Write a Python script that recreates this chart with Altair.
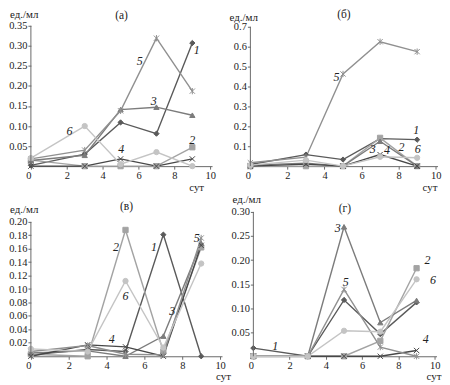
import altair as alt
import pandas as pd

DAYS = [0, 3, 5, 7, 9]
SERIES = ["1", "2", "3", "4", "5", "6"]
COLORS = ["#5a5a5a", "#a3a3a3", "#7c7c7c", "#474747", "#909090", "#c4c4c4"]
X_PATH = "M-1,-1L1,1M-1,1L1,-1"
STAR_PATH = "M-1,-1L1,1M-1,1L1,-1M0,-1.2L0,1.2"
SHAPES = ["diamond", "square", "triangle-up", X_PATH, STAR_PATH, "circle"]
XTICKS = [0, 2, 4, 6, 8, 10]

# panel (а)
a_1 = [0.002, 0.030, 0.109, 0.081, 0.307]
a_2 = [0.015, 0.000, 0.000, 0.000, 0.047]
a_3 = [0.014, 0.027, 0.141, 0.147, 0.127]
a_4 = [0.000, 0.000, 0.018, 0.000, 0.018]
a_5 = [0.018, 0.040, 0.138, 0.319, 0.187]
a_6 = [0.020, 0.100, 0.005, 0.035, 0.000]
a_lab_x = [9.24, 8.99, 6.85, 5.04, 6.07, 2.15]
a_lab_y = [0.290, 0.066, 0.163, 0.042, 0.263, 0.088]
a_ticks = [0.05, 0.10, 0.15, 0.20, 0.25, 0.30, 0.35]

# panel (б)
b_1 = [0.008, 0.058, 0.033, 0.138, 0.133]
b_2 = [0.000, 0.000, 0.000, 0.142, 0.000]
b_3 = [0.005, 0.015, 0.000, 0.125, 0.000]
b_4 = [0.000, 0.010, 0.000, 0.058, 0.000]
b_5 = [0.017, 0.045, 0.463, 0.625, 0.575]
b_6 = [0.005, 0.030, 0.000, 0.047, 0.042]
b_lab_x = [8.95, 8.16, 6.60, 7.37, 4.65, 9.03]
b_lab_y = [0.180, 0.097, 0.088, 0.083, 0.450, 0.085]
b_ticks = [0.1, 0.2, 0.3, 0.4, 0.5, 0.6, 0.7]

# panel (в)
c_1 = [0.002, 0.010, 0.007, 0.181, 0.000]
c_2 = [0.003, 0.000, 0.188, 0.007, 0.162]
c_3 = [0.005, 0.008, 0.000, 0.030, 0.168]
c_4 = [0.000, 0.017, 0.014, 0.000, 0.165]
c_5 = [0.007, 0.016, 0.003, 0.002, 0.176]
c_6 = [0.011, 0.007, 0.112, 0.013, 0.138]
c_lab_x = [6.50, 4.50, 7.47, 4.27, 8.77, 5.00]
c_lab_y = [0.163, 0.163, 0.067, 0.026, 0.176, 0.090]
c_ticks = [0.02, 0.04, 0.06, 0.08, 0.10, 0.12, 0.14, 0.16, 0.18, 0.20]

# panel (г)
d_1 = [0.017, 0.000, 0.117, 0.046, 0.112]
d_2 = [0.000, 0.000, 0.000, 0.032, 0.183]
d_3 = [0.000, 0.000, 0.269, 0.070, 0.116]
d_4 = [0.000, 0.000, 0.000, 0.000, 0.012]
d_5 = [0.000, 0.000, 0.139, 0.019, 0.000]
d_6 = [0.000, 0.000, 0.053, 0.051, 0.160]
d_lab_x = [1.20, 9.60, 4.65, 9.50, 5.10, 9.90]
d_lab_y = [0.022, 0.200, 0.267, 0.036, 0.155, 0.158]
d_ticks = [0.05, 0.10, 0.15, 0.20, 0.25, 0.30]

SERIF = "Liberation Serif"
AXIS_COLOR = "#6a6a6a"


def panel(letter, vals, lab_x, lab_y, yticks, yfmt, ymax, width, height,
          ytitle_y, title_y, sut_x, sut_y):
    rows = []
    for s, v in zip(SERIES, vals):
        for d, y in zip(DAYS, v):
            rows.append({"s": s, "x": d, "y": y})
    df = pd.DataFrame(rows)
    labs = pd.DataFrame({"s": SERIES, "x": lab_x, "y": lab_y})

    xs = alt.Scale(domain=[0, 10.1], nice=False, zero=False)
    ys = alt.Scale(domain=[0, ymax], nice=False)
    xaxis = alt.Axis(values=XTICKS, format="d", grid=False, tickSize=3,
                     labelPadding=1, labelFont=SERIF, labelFontSize=10.5,
                     labelColor="#222", domainColor=AXIS_COLOR, tickColor=AXIS_COLOR,
                     labelAlign=alt.ExprRef(expr="datum.value === 0 ? 'right' : 'center'"))
    yaxis = alt.Axis(values=yticks, format=yfmt, grid=False, domain=False, tickSize=3,
                     labelPadding=1, labelFont=SERIF, labelFontSize=10.5,
                     labelColor="#222", tickColor=AXIS_COLOR)
    X = alt.X("x:Q", scale=xs, axis=xaxis, title=None)
    Y = alt.Y("y:Q", scale=ys, axis=yaxis, title=None)
    cscale = alt.Scale(domain=SERIES, range=COLORS)

    base = alt.Chart(df)
    lines = base.mark_line(strokeWidth=1.4).encode(
        x=X, y=Y, color=alt.Color("s:N", scale=cscale, legend=None), detail="s:N")
    pts = base.mark_point(size=28, strokeWidth=1, opacity=1).encode(
        x=X, y=Y,
        shape=alt.Shape("s:N", scale=alt.Scale(domain=SERIES, range=SHAPES), legend=None),
        fill=alt.Fill("s:N", scale=cscale, legend=None),
        stroke=alt.Stroke("s:N", scale=cscale, legend=None))
    yline = alt.Chart(pd.DataFrame({"x": [0], "y": [0], "y2": [yticks[-1]]})).mark_rule(
        color=AXIS_COLOR, strokeWidth=1).encode(x=X, y=Y, y2="y2:Q")
    text = alt.Chart(labs).mark_text(font=SERIF, fontStyle="italic", fontSize=12,
                                     color="#222").encode(x=X, y=Y, text="s:N")
    ann = pd.DataFrame({"t": [0]})
    t_title = alt.Chart(ann).mark_text(text=letter, font=SERIF, fontSize=11.5, color="#222",
                                       baseline="alphabetic").encode(
        x=alt.value(width / 2), y=alt.value(title_y))
    t_unit = alt.Chart(ann).mark_text(text="ед./мл", font=SERIF, fontSize=11, color="#222",
                                      align="left", baseline="alphabetic").encode(
        x=alt.value(-21), y=alt.value(ytitle_y))
    t_sut = alt.Chart(ann).mark_text(text="сут", font=SERIF, fontSize=11, color="#222",
                                     align="left", baseline="alphabetic").encode(
        x=alt.value(sut_x), y=alt.value(sut_y))
    return alt.layer(lines, pts, yline, text, t_title, t_unit, t_sut).properties(
        width=width, height=height)


pa = panel("(а)", [a_1, a_2, a_3, a_4, a_5, a_6], a_lab_x, a_lab_y, a_ticks, ".2f",
           0.35, 182, 141, -8, -7, 159, 166)
pb = panel("(б)", [b_1, b_2, b_3, b_4, b_5, b_6], b_lab_x, b_lab_y, b_ticks, ".1f",
           0.705, 188, 141, -5, -8, 173, 166)
pc = panel("(в)", [c_1, c_2, c_3, c_4, c_5, c_6], c_lab_x, c_lab_y, c_ticks, ".2f",
           0.2148, 192, 145, 1, -2, 186, 169)
pd_ = panel("(г)", [d_1, d_2, d_3, d_4, d_5, d_6], d_lab_x, d_lab_y, d_ticks, ".2f",
            0.30, 184, 145, -9, 0, 174, 169)

row1 = alt.hconcat(pa, pb, spacing=38.5, bounds="flush")
row2 = alt.hconcat(pc, pd_, spacing=31.5, bounds="flush")
chart = alt.vconcat(row1, row2, spacing=1, bounds="full").properties(
    padding=0
).configure_view(stroke=None).configure_axis(grid=False)

chart.save("out.html", embed_options={"renderer": "svg", "actions": False})
